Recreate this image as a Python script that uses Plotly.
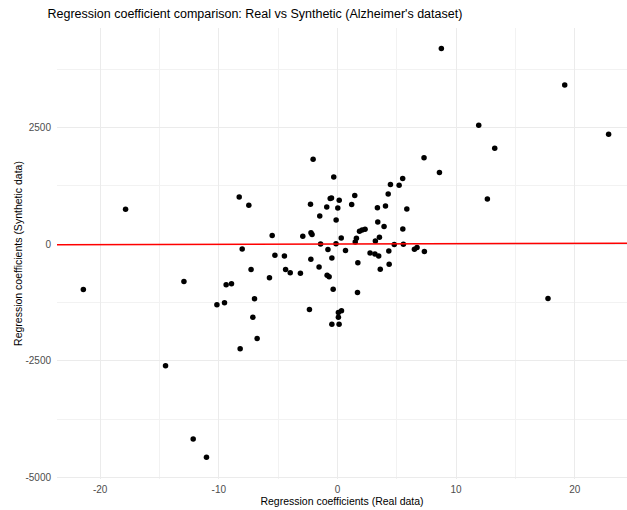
import plotly.graph_objects as go

# Regression coefficients
real_coef = [
    -17.86, -8.28, -7.47, -8.03, -2.05, -0.31, -2.27, -0.61, -0.50, 0.15,
    -0.90, 0.03, 1.46, 1.20, -1.49, -0.11, 7.30, 8.60, 4.47, 5.50,
    5.20, 4.28, 3.37, 4.05, 5.85, 3.40, 3.93, 5.51, 1.86, 2.08,
    2.33, 3.54, 3.20, 1.60, 1.50, 0.32, -2.23, -2.14, -2.92, -5.50,
    -1.42, -0.12, -0.80, 0.68, -0.47, -2.24, -1.55, 1.72, 2.75, 3.16,
    3.48, 4.79, 5.56, 4.33, 4.36, 6.49, 6.71, 7.33, -5.27, -4.47,
    -7.28, -4.37, 3.61, -3.98, -3.12, -5.73, -0.87, -0.70, -0.36, 1.69,
    -6.99, -2.36, 0.08, 0.34, 0.08, -0.47, 0.14, -7.13, -6.77, -8.20,
    -21.42, -12.94, -9.38, -8.93, -10.16, -9.52, -14.49, -12.16, -11.04, 8.76,
    19.16, 22.86, 11.91, 13.26, 12.64, 17.75,
]
synthetic_coef = [
    750, 1013, 836, -100, 1821, 1440, 855, 979, 992, 945,
    800, 779, 1043, 850, 605, 521, 1857, 1536, 1279, 1407,
    1264, 1075, 783, 818, 757, 479, 379, 329, 278, 303,
    321, 147, 68, 130, 50, 133, 245, 207, 171, 186,
    4, 10, -114, -136, -293, -321, -490, -400, -190, -211,
    -253, -7, -3, -146, -429, -107, -71, -157, -236, -250,
    -540, -540, -536, -614, -621, -721, -664, -700, -964, -1036,
    -1171, -1400, -1464, -1429, -1564, -1714, -1714, -1564, -2021, -2243,
    -971, -800, -871, -850, -1300, -1257, -2607, -4178, -4571, 4200,
    3414, 2357, 2550, 2057, 971, -1164,
]

# Fitted reference line (intercept, slope)
line_intercept = 6
line_slope = 0.7

x_tick_vals = [-20, -10, 0, 10, 20]
x_tick_text = ["-20", "-10", "0", "10", "20"]
y_tick_vals = [-5000, -2500, 0, 2500]
y_tick_text = ["-5000", "-2500", "0", "2500"]

x_range = [-23.64, 24.41]
y_range = [-5035, 4637]

title_text = "Regression coefficient comparison: Real vs Synthetic (Alzheimer's dataset)"
x_title = "Regression coefficients (Real data)"
y_title = "Regression coefficients (Synthetic data)"

FONT = "Liberation Sans, Arial, Helvetica, sans-serif"

fig = go.Figure()

fig.add_trace(go.Scatter(
    x=real_coef, y=synthetic_coef, mode="markers",
    marker=dict(color="black", size=5.5, line=dict(width=0)),
    showlegend=False, hoverinfo="x+y",
))

line_x = x_range
line_y = [line_intercept + line_slope * v for v in line_x]
fig.add_trace(go.Scatter(
    x=line_x, y=line_y, mode="lines",
    line=dict(color="#ff0000", width=1.5),
    showlegend=False, hoverinfo="skip",
))

grid_major = "#ebebeb"
grid_minor = "#f2f2f2"

fig.update_layout(
    width=627, height=510,
    margin=dict(l=57, r=0, t=28, b=31, autoexpand=False),
    paper_bgcolor="white", plot_bgcolor="white",
    font=dict(family=FONT, color="black"),
    title=dict(
        text=title_text, x=47.5 / 627, xanchor="left", xref="container",
        y=1 - 13.5 / 510, yanchor="middle", yref="container",
        font=dict(size=12.5, color="black", family=FONT),
    ),
    xaxis=dict(
        range=x_range, tickmode="array", tickvals=x_tick_vals, ticktext=x_tick_text,
        showgrid=True, gridcolor=grid_major, gridwidth=1.1,
        minor=dict(dtick=5, tick0=0, showgrid=True, gridcolor=grid_minor, gridwidth=0.8),
        zeroline=False, showline=False, ticks="",
        ticklabelstandoff=3,
        tickfont=dict(size=10, color="#4d4d4d", family=FONT),
        title=dict(text=x_title, font=dict(size=10.5, color="black", family=FONT), standoff=2),
        automargin=False,
    ),
    yaxis=dict(
        range=y_range, tickmode="array", tickvals=y_tick_vals, ticktext=y_tick_text,
        showgrid=True, gridcolor=grid_major, gridwidth=1.1,
        minor=dict(dtick=1250, tick0=0, showgrid=True, gridcolor=grid_minor, gridwidth=0.8),
        zeroline=False, showline=False, ticks="",
        ticklabelstandoff=5,
        tickfont=dict(size=10, color="#4d4d4d", family=FONT),
        title=dict(text=y_title, font=dict(size=10.5, color="black", family=FONT), standoff=0),
        automargin=False,
    ),
)

fig.write_html(
    "out.html",
    config={"displayModeBar": False},
    post_script="document.body.style.margin='0';document.body.style.padding='0';",
)
